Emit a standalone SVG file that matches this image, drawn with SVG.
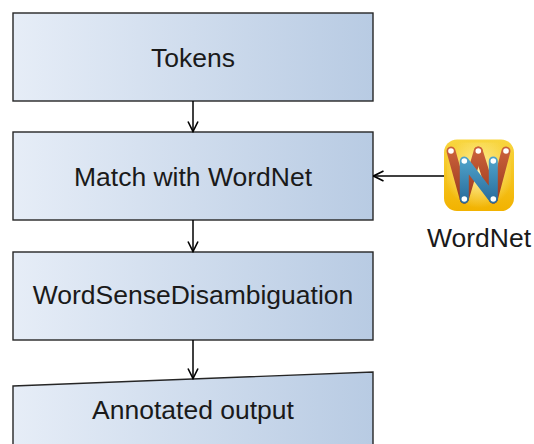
<svg xmlns="http://www.w3.org/2000/svg" width="534" height="444" viewBox="0 0 534 444">
<defs>
  <linearGradient id="boxGrad" x1="0" y1="0" x2="1" y2="0">
    <stop offset="0" stop-color="#e6edf7"/>
    <stop offset="1" stop-color="#b8cbe3"/>
  </linearGradient>
  <linearGradient id="iconBg" x1="0" y1="0" x2="0" y2="1">
    <stop offset="0" stop-color="#f8d640"/>
    <stop offset="1" stop-color="#f2b200"/>
  </linearGradient>
  <radialGradient id="iconGlow" cx="0.5" cy="0.45" r="0.55">
    <stop offset="0" stop-color="#fff6b0"/>
    <stop offset="1" stop-color="#fff6b0" stop-opacity="0"/>
  </radialGradient>
  <linearGradient id="redGrad" x1="0" y1="0" x2="0" y2="1">
    <stop offset="0" stop-color="#c9603a"/>
    <stop offset="1" stop-color="#9c3a1e"/>
  </linearGradient>
  <linearGradient id="blueGrad" x1="0" y1="0" x2="0" y2="1">
    <stop offset="0" stop-color="#4ea0c8"/>
    <stop offset="1" stop-color="#2b6f9e"/>
  </linearGradient>
  <marker id="arrow" viewBox="0 0 12 12" refX="11" refY="6" markerWidth="12" markerHeight="12" markerUnits="userSpaceOnUse" orient="auto">
    <path d="M1,1 L11,6 L1,11" fill="none" stroke="#000" stroke-width="1.6"/>
  </marker>
</defs>
<style>
  .box { fill: url(#boxGrad); stroke: #262626; stroke-width: 1.4; }
  .label { font-family: "Liberation Sans", Arial, sans-serif; font-size: 26.5px; fill: #1a1a1a; text-anchor: middle; }
  .conn { stroke: #000; stroke-width: 1.5; fill: none; marker-end: url(#arrow); }
</style>

<g id="tokens">
  <rect class="box" x="13" y="13" width="360" height="88"/>
  <text class="label" x="193" y="66.5">Tokens</text>
</g>

<g id="match">
  <rect class="box" x="13" y="132" width="360" height="88"/>
  <text class="label" x="193" y="185.5">Match with WordNet</text>
</g>

<g id="wsd">
  <rect class="box" x="13" y="252" width="360" height="88"/>
  <text class="label" x="193" y="304">WordSenseDisambiguation</text>
</g>

<g id="output">
  <polygon class="box" points="13,386 373,372 373,460 13,460"/>
  <text class="label" x="193" y="418.5">Annotated output</text>
</g>

<g id="wordnet">
  <rect x="444" y="139.5" width="70" height="71.5" rx="13" ry="13" fill="url(#iconBg)"/>
  <rect x="447" y="142.5" width="64" height="65.5" rx="11" ry="11" fill="url(#iconGlow)"/>
  <g stroke="url(#redGrad)" stroke-width="9" stroke-linecap="round" fill="none">
    <line x1="451" y1="151" x2="464.3" y2="199"/>
    <line x1="478.3" y1="151" x2="464.3" y2="199"/>
    <line x1="478.3" y1="151" x2="493.3" y2="199"/>
    <line x1="506" y1="151" x2="493.3" y2="199"/>
  </g>
  <g stroke="url(#blueGrad)" stroke-width="9" stroke-linecap="round" stroke-linejoin="round" fill="none">
    <polyline points="464.3,199 464.3,161 493.3,199 493.3,161"/>
  </g>
  <g fill="#ffffff">
    <circle cx="451" cy="151" r="2.8"/>
    <circle cx="478.3" cy="151" r="2.8"/>
    <circle cx="506" cy="151" r="2.8"/>
    <circle cx="464.3" cy="161" r="2.8"/>
    <circle cx="493.3" cy="161" r="2.8"/>
    <circle cx="464.3" cy="199" r="2.8"/>
    <circle cx="493.3" cy="199" r="2.8"/>
  </g>
  <text class="label" x="479" y="247">WordNet</text>
</g>

<g id="connectors">
  <line class="conn" x1="193" y1="101" x2="193" y2="131.5"/>
  <line class="conn" x1="193" y1="220" x2="193" y2="251.5"/>
  <line class="conn" x1="193" y1="340" x2="193" y2="378.5"/>
  <line class="conn" x1="444" y1="176" x2="373.5" y2="176"/>
</g>
</svg>
